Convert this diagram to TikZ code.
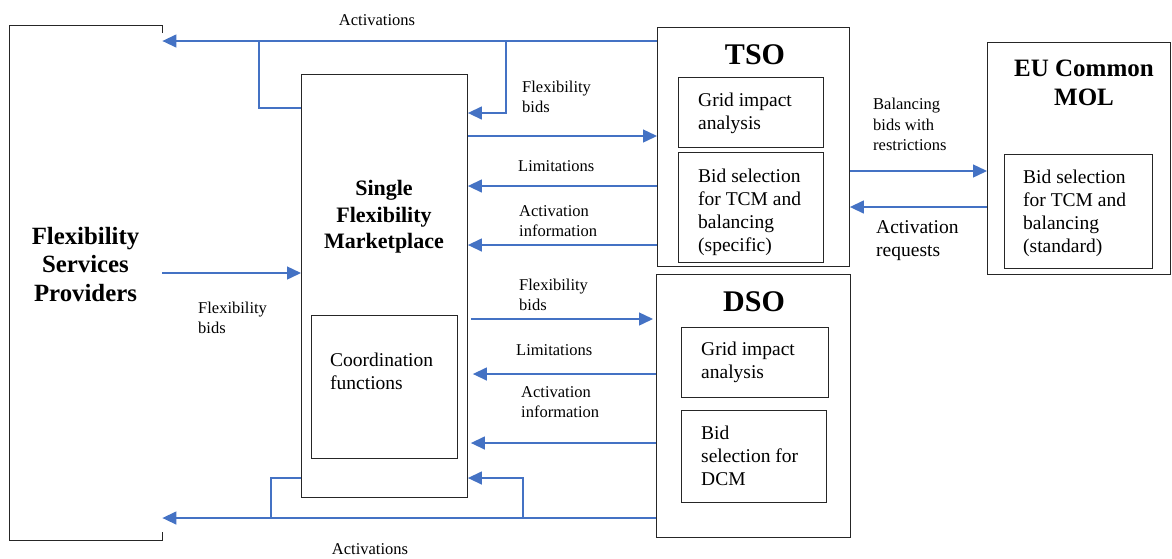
\documentclass[tikz,border=0pt]{standalone}
\usepackage{fontspec}
\setmainfont{Liberation Serif}
\usetikzlibrary{arrows.meta}
\definecolor{ablue}{HTML}{4472C4}
\begin{document}
\begin{tikzpicture}[x=1pt,y=-1pt,
  box/.style={draw=black!85, line width=0.9pt, inner sep=0pt, anchor=north west},
  area/.style={inner sep=0pt, anchor=north west},
  flow/.style={draw=ablue, line width=1.4pt, -{Triangle[length=14pt,width=13pt]}},
  link/.style={draw=ablue, line width=1.4pt},
  lbl/.style={font=\fontsize{16.5}{20}\selectfont, align=left, anchor=north west, inner sep=0pt},
  btxt/.style={font=\fontsize{19.5}{23}\selectfont, align=left, anchor=north west, inner sep=0pt},
  ttl/.style={font=\bfseries\fontsize{30}{34}\selectfont, inner sep=0pt},
]
\useasboundingbox (0,0) rectangle (1172,558);

% Flexibility Services Providers
\node[area, minimum width=153pt, minimum height=515pt] (fsp) at (9,25) {};
\draw[black!85, line width=0.9pt] ([yshift=-8pt]fsp.north east) -- (fsp.north east) -- (fsp.north west) -- (fsp.south west) -- (fsp.south east) -- ([yshift=8pt]fsp.south east);
\node[font=\bfseries\fontsize{24.8}{28.5}\selectfont, align=center, inner sep=0pt] (fspt) at (85.5,264.5) {Flexibility\\Services\\Providers};

% Single Flexibility Marketplace
\node[box, minimum width=166pt, minimum height=423pt] (sfm) at (301,74) {};
\node[font=\bfseries\fontsize{22}{26.5}\selectfont, align=center, inner sep=0pt] (sfmt) at (384,217) {Single\\Flexibility\\Marketplace};
\node[box, minimum width=146pt, minimum height=143pt] (coord) at (311,315) {};
\node[btxt] (coordt) at (330,349.7) {\strut Coordination\\functions};

% TSO
\node[box, minimum width=192pt, minimum height=239pt] (tso) at (657,27) {};
\node[ttl] (tsot) at (755,55) {TSO};
\node[box, minimum width=145pt, minimum height=70pt] (tsoA) at (678,77) {};
\node[btxt] (tsoAt) at (698,89.7) {\strut Grid impact\\analysis};
\node[box, minimum width=145pt, minimum height=110pt] (tsoB) at (678,152) {};
\node[btxt] (tsoBt) at (698,165.7) {\strut Bid selection\\for TCM and\\balancing\\(specific)};

% EU Common MOL
\node[box, minimum width=183pt, minimum height=232pt] (eu) at (987,42) {};
\node[font=\bfseries\fontsize{25}{29}\selectfont, align=center, inner sep=0pt] (eut) at (1084,82.5) {EU Common\\MOL};
\node[box, minimum width=148pt, minimum height=114pt] (euA) at (1004,154) {};
\node[btxt] (euAt) at (1023,166.7) {\strut Bid selection\\for TCM and\\balancing\\(standard)};

% DSO
\node[box, minimum width=194pt, minimum height=263pt] (dso) at (656,274) {};
\node[ttl] (dsot) at (754,302) {DSO};
\node[box, minimum width=147pt, minimum height=70pt] (dsoA) at (681,327) {};
\node[btxt] (dsoAt) at (701,338.7) {\strut Grid impact\\analysis};
\node[box, minimum width=145pt, minimum height=92pt] (dsoB) at (681,410) {};
\node[btxt] (dsoBt) at (701,422.7) {\strut Bid\\selection for\\DCM};

% junction points
\coordinate (jTL) at (259,41);
\coordinate (jTR) at (506,41);
\coordinate (jBL) at (271,518);
\coordinate (jBR) at (523,518);

% connectors
\draw[flow] (tso.west |- 0,41) -- (fsp.east |- 0,41);
\draw[link] (sfm.west |- 0,108) -| (jTL);
\draw[flow] (jTR) |- (sfm.east |- 0,113);
\draw[flow] (sfm.east |- 0,136) -- (tso.west |- 0,136);
\draw[flow] (tso.west |- 0,186) -- (sfm.east |- 0,186);
\draw[flow] (tso.west |- 0,245) -- (sfm.east |- 0,245);
\draw[flow] (fsp.east |- 0,273) -- (sfm.west |- 0,273);
\draw[flow, shorten <=3pt, shorten >=3pt] (sfm.east |- 0,319) -- (dso.west |- 0,319);
\draw[flow, shorten >=5pt] (dso.west |- 0,374) -- (sfm.east |- 0,374);
\draw[flow, shorten >=3pt] (dso.west |- 0,443) -- (sfm.east |- 0,443);
\draw[flow] (jBR) |- (sfm.east |- 0,478);
\draw[link] (sfm.west |- 0,478) -| (jBL);
\draw[flow] (dso.west |- 0,518) -- (fsp.east |- 0,518);
\draw[flow] (tso.east |- 0,171) -- (eu.west |- 0,171);
\draw[flow] (eu.west |- 0,207) -- (tso.east |- 0,207);

% labels
\node[lbl, anchor=center] (actT) at (377,20) {Activations};
\node[lbl] (fbT) at (522,78) {\strut Flexibility\\bids};
\node[lbl] (limT) at (518,157) {\strut Limitations};
\node[lbl] (aiT) at (519,202) {\strut Activation\\information};
\node[lbl] (fbF) at (198,299) {\strut Flexibility\\bids};
\node[lbl] (fbD) at (519,276) {\strut Flexibility\\bids};
\node[lbl] (limD) at (516,341) {\strut Limitations};
\node[lbl] (aiD) at (521,383) {\strut Activation\\information};
\node[lbl, anchor=center] (actB) at (370,549) {Activations};
\node[lbl, font=\fontsize{16.5}{20.5}\selectfont] (bal) at (873,95) {\strut Balancing\\bids with\\restrictions};
\node[btxt, font=\fontsize{19.5}{23.5}\selectfont] (areq) at (876,216.4) {\strut Activation\\requests};
\end{tikzpicture}
\end{document}
